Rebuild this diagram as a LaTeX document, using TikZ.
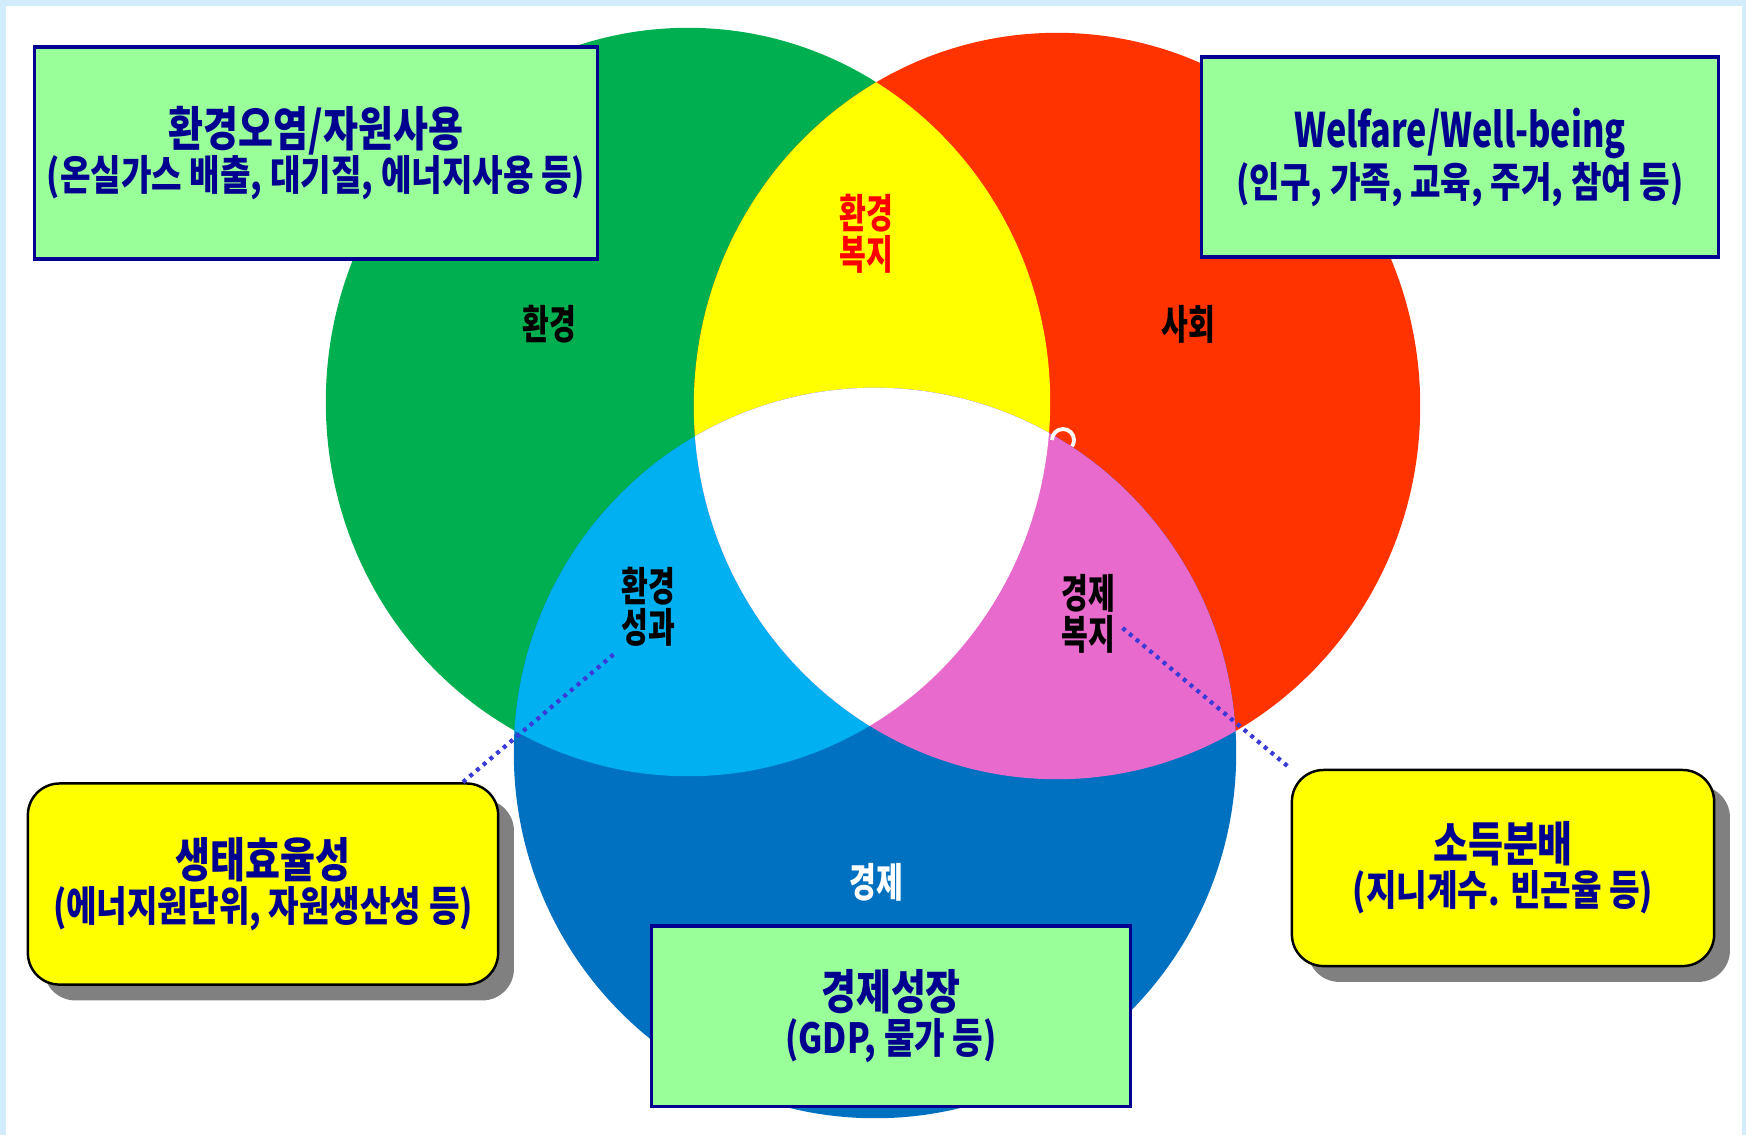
\documentclass[tikz,border=0pt]{standalone}
\usepackage{fontspec}
\newfontfamily\kr[FakeStretch=0.8]{Noto Sans CJK KR}
\newfontfamily\krs[FakeStretch=0.72]{Noto Sans CJK KR}
\usepackage{tikz}
\usetikzlibrary{shadows,positioning}
\usepackage{xcolor}
\definecolor{fondo}{HTML}{D2ECFB}
\definecolor{verde}{HTML}{00B050}
\definecolor{rojo}{HTML}{FF3300}
\definecolor{azul}{HTML}{0070C0}
\definecolor{amarillo}{HTML}{FFFF00}
\definecolor{celeste}{HTML}{00B0F0}
\definecolor{rosa}{HTML}{E86ACC}
\definecolor{cajaverde}{HTML}{99FF99}
\definecolor{marino}{HTML}{000090}
\definecolor{punteado}{HTML}{3A3AD8}

\def\circG{(688,402) ellipse [x radius=3.62cm, y radius=3.74cm]}
\def\circR{(1057,406) ellipse [x radius=3.63cm, y radius=3.73cm]}
\def\circB{(875,753) ellipse [x radius=3.61cm, y radius=3.65cm]}

\newcommand{\dosrenglones}[2]{#1\\{\fontsize{11.8}{12.6}\selectfont #2}}

\tikzset{
  cajav/.style={draw=marino, line width=0.9pt, fill=cajaverde, text=marino, align=center, inner sep=0pt,
    font=\kr\bfseries\fontsize{13.5}{12.6}\selectfont},
  cajaa/.style={draw=black, line width=0.7pt, fill=amarillo, text=marino, align=center, inner sep=0pt,
    rounded corners=9pt, font=\kr\bfseries\fontsize{13.5}{12.6}\selectfont,
    drop shadow={shadow xshift=4.5pt, shadow yshift=-4.5pt, fill=black!50, opacity=1}},
  region/.style={align=center, inner sep=2pt, font=\krs\bfseries\fontsize{11.5}{10.6}\selectfont},
  linpunto/.style={draw=punteado, line width=1.2pt, dash pattern=on 1.1pt off 1.4pt}
}

\begin{document}
\begin{tikzpicture}[x=0.01cm, y=-0.01cm]
            \useasboundingbox (0,0) rectangle (1746,1135);
            \fill[fondo] (0,0) rectangle (1746,1135); % marco
            \fill[white] (6,6) rectangle (1742,1135);
            \fill[verde] \circG;
            \fill[rojo] \circR;
            \fill[azul] \circB;
            \begin{scope} \clip \circG; \fill[amarillo] \circR; \fill[celeste] \circB; \end{scope}
            \begin{scope} \clip \circR; \fill[rosa] \circB; \end{scope}
            \begin{scope} \clip \circG; \clip \circR; \fill[white] \circB; \end{scope}
            \draw[white, line width=1.1pt] (1052,440) arc (180:395:11);
            % etiquetas
            \node[region] (env) at (549,324) {환경};
            \node[region] (soc) at (1188,324) {사회};
            \node[region, text=red] (envwel) at (866,234) {환경\\복지};
            \node[region] (perf) at (648,607) {환경\\성과};
            \node[region] (welf) at (1088,614) {경제\\복지};
            \node[region, text=white] (eco) at (876,882) {경제};
            % cajas
            \node[cajav, minimum width=5.62cm, minimum height=2.12cm] (envbox) at (316,153)
              {\dosrenglones{환경오염/자원사용}{(온실가스 배출, 대기질, 에너지사용 등)}};
            \node[cajav, minimum width=5.17cm, minimum height=2.0cm] (socbox) at (1460,157)
              {\dosrenglones{\krs Welfare/Well-being}{(인구, 가족, 교육, 주거, 참여 등)}};
            \node[cajav, minimum width=4.79cm, minimum height=1.8cm] (ecobox) at (891,1016)
              {\dosrenglones{경제성장}{(GDP, 물가 등)}};
            \node[cajaa, minimum width=4.70cm, minimum height=2.01cm] (effbox) at (263,884)
              {\dosrenglones{생태효율성}{(에너지원단위, 자원생산성 등)}};
            \node[cajaa, minimum width=4.22cm, minimum height=1.96cm] (distbox) at (1503,868)
              {\dosrenglones{소득분배}{(지니계수. 빈곤율 등)}};
            \draw[linpunto] (perf.south west) -- (effbox.27);
            \draw[linpunto] (welf.-22) -- (distbox.north west);
\end{tikzpicture}
\end{document}
